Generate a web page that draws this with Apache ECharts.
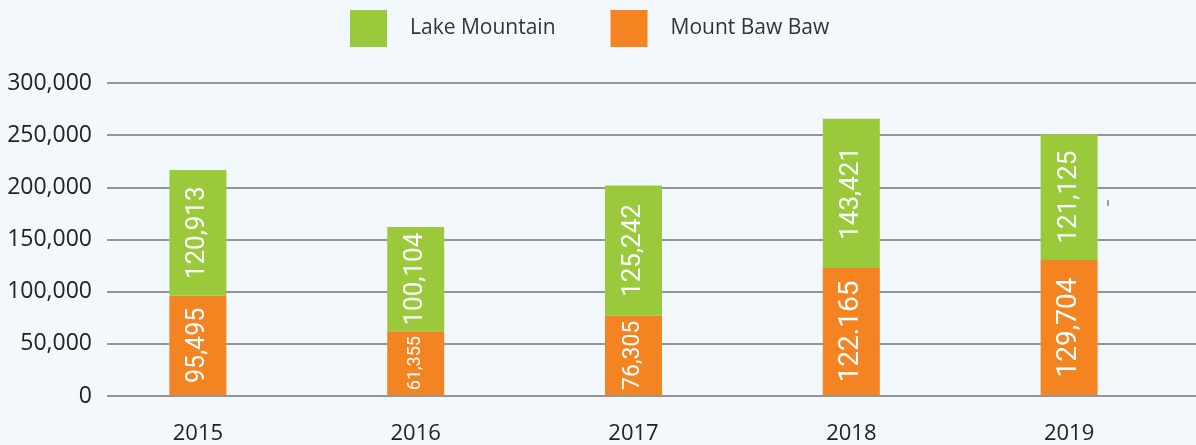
<!DOCTYPE html>
<html>
<head>
<meta charset="utf-8">
<script src="https://cdn.jsdelivr.net/npm/echarts@6/dist/echarts.min.js"></script>
<style>
  html, body { margin: 0; padding: 0; background: #f3f8fc; }
  #chart { width: 1196px; height: 445px; }
</style>
</head>
<body>
<div id="chart"></div>
<script>
// data
const years = ['2015', '2016', '2017', '2018', '2019']
const mountBawBaw = [95495, 61355, 76305, 122165, 129704]
const lakeMountain = [120913, 100104, 125242, 143421, 121125]
// label text as printed on the bars (2018 uses a dot in the original)
const mbbLabels = ['95,495', '61,355', '76,305', '122.165', '129,704']
const lmLabels = ['120,913', '100,104', '125,242', '143,421', '121,125']
const yTicks = [0, 50000, 100000, 150000, 200000, 250000, 300000]

// the printed labels are not all the same size
const mbbLabelSize = [25, 18, 23, 28, 28]
const lmLabelSize = [26, 26, 26, 26, 26]

const chart = echarts.init(document.getElementById('chart'))

const fmt = v => v.toLocaleString('en-US')

const barLabel = {
  show: true,
  position: 'inside',
  rotate: 90,
  color: '#fff',
  fontFamily: 'Roboto',
  fontWeight: 'normal'
}

const option = {
  backgroundColor: '#f3f8fc',
  animation: false,
  textStyle: { fontFamily: 'Open Sans' },
  legend: {
    left: 345,
    top: 5,
    icon: 'rect',
    itemWidth: 37,
    itemHeight: 37,
    itemGap: 55,
    textStyle: { fontSize: 21, color: '#333', fontFamily: 'Open Sans', padding: [0, 0, 0, 18] },
    data: ['Lake Mountain', 'Mount Baw Baw']
  },
  grid: [
    // grid carrying the y labels and the horizontal rules
    { left: 107, right: 0, top: 83, bottom: 49 },
    // grid carrying the bars
    { left: 89, right: 18, top: 83, bottom: 49 }
  ],
  xAxis: [
    { gridIndex: 0, type: 'category', data: years, show: false },
    {
      gridIndex: 1,
      type: 'category',
      data: years,
      axisLine: { show: false },
      axisTick: { show: false },
      axisLabel: { fontSize: 22, color: '#222', margin: 28, fontFamily: 'Open Sans' }
    }
  ],
  yAxis: [
    {
      gridIndex: 0,
      type: 'value',
      min: yTicks[0],
      max: yTicks[yTicks.length - 1],
      interval: yTicks[1] - yTicks[0],
      axisLine: { show: false },
      axisTick: { show: false },
      axisLabel: { fontSize: 23, color: '#222', margin: 15, formatter: fmt, fontFamily: 'Open Sans' },
      splitLine: { lineStyle: { color: '#939699', width: 2 } }
    },
    {
      gridIndex: 1,
      type: 'value',
      min: yTicks[0],
      max: yTicks[yTicks.length - 1],
      interval: yTicks[1] - yTicks[0],
      show: false,
      splitLine: { show: false }
    }
  ],
  series: [
    {
      name: 'Mount Baw Baw',
      type: 'bar',
      stack: 'visitors',
      xAxisIndex: 1,
      yAxisIndex: 1,
      barWidth: 57,
      itemStyle: { color: '#f48322' },
      data: mountBawBaw.map((v, i) => ({ value: v, label: { fontSize: mbbLabelSize[i] } })),
      label: Object.assign({}, barLabel, { formatter: p => mbbLabels[p.dataIndex] })
    },
    {
      name: 'Lake Mountain',
      type: 'bar',
      stack: 'visitors',
      xAxisIndex: 1,
      yAxisIndex: 1,
      barWidth: 57,
      itemStyle: { color: '#9aca3c' },
      data: lakeMountain.map((v, i) => ({ value: v, label: { fontSize: lmLabelSize[i] } })),
      label: Object.assign({}, barLabel, { formatter: p => lmLabels[p.dataIndex] })
    }
  ],
  graphic: [
    // stray tick mark beside the 2019 bar
    { type: 'rect', left: 1107, top: 200, shape: { width: 2, height: 6 }, style: { fill: '#9aa0a6' } }
  ]
}

chart.setOption(option)
</script>
</body>
</html>
